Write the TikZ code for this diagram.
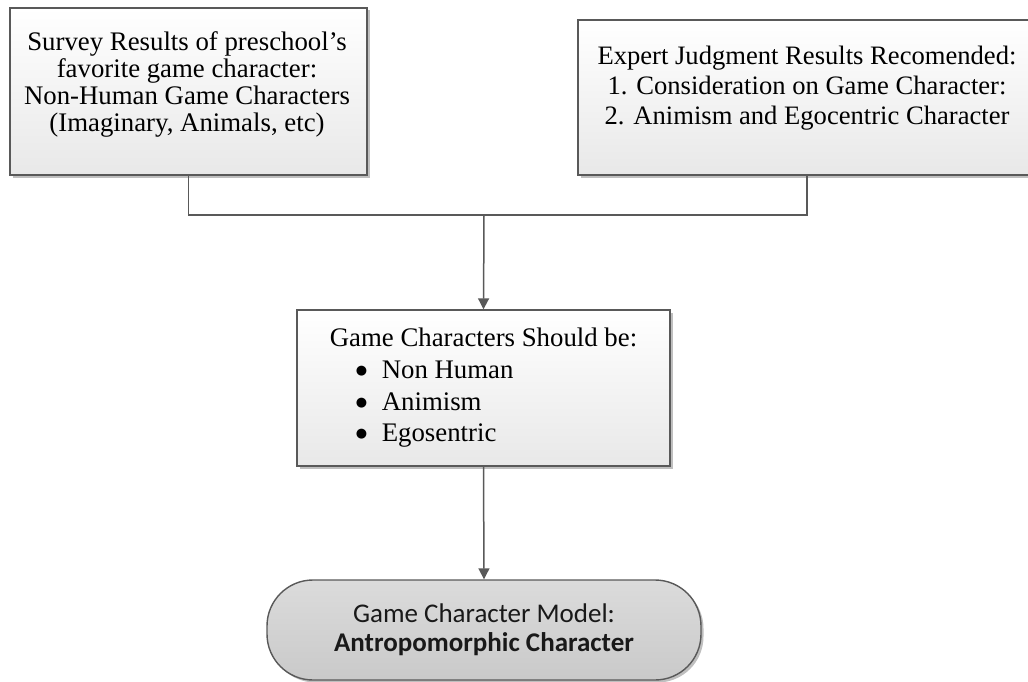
\documentclass[tikz,border=0pt]{standalone}
\usepackage{fontspec}
\setmainfont{Liberation Serif}
\newfontfamily\calib{Carlito}
\newfontfamily\dejavu{DejaVu Sans}
\usetikzlibrary{arrows.meta,shadows}
\definecolor{ln}{HTML}{595959}
\newcommand{\bigbul}{\hspace*{26pt}\makebox[26pt][l]{\raisebox{4pt}{\dejavu\fontsize{13}{13}\selectfont ●}}}
\begin{document}
\begin{tikzpicture}[x=1pt,y=-1pt,
 box/.style={draw=ln, line width=1.4pt, top color=white, bottom color=black!9, rectangle, inner sep=0pt,
   drop shadow={shadow xshift=2.5pt,shadow yshift=-2.5pt,opacity=0.25,fill=black}},
 stad/.style={draw=ln, line width=1.4pt, top color=black!14, bottom color=black!21, rectangle, rounded corners=46pt, inner sep=0pt,
   drop shadow={shadow xshift=2.5pt,shadow yshift=-2.5pt,opacity=0.25,fill=black}},
 txt/.style={align=center, font=\fontsize{26.8}{27.3}\selectfont, inner sep=0pt},
 conn/.style={draw=ln, line width=1.5pt},
 arr/.style={conn, -{Triangle[length=11pt,width=11pt]}}]
\useasboundingbox (0,0) rectangle (1028,682);

\node[box, minimum width=357pt, minimum height=167pt] (b1) at (188.5,91.5) {};
\node[txt] (t1) at (187,84.5) {Survey Results of preschool’s\\favorite game character:\\Non-Human Game Characters\\(Imaginary, Animals, etc)};

\node[box, minimum width=458pt, minimum height=155pt] (b2) at (807,97.5) {};
\node[txt, font=\fontsize{26.6}{30}\selectfont] (t2) at (807,88.5) {Expert Judgment Results Recomended:\\1. Consideration on Game Character:\\2. Animism and Egocentric Character};

\node[box, minimum width=373pt, minimum height=156pt, align=left, font=\fontsize{26.8}{31.7}\selectfont] (b3) at (483.5,388)
 {Game Characters Should be:\\
  \bigbul Non Human\\
  \bigbul Animism\\
  \bigbul Egosentric};

\node[stad, minimum width=434pt, minimum height=100pt, align=center, font=\calib\fontsize{27}{29}\selectfont, text=black!90] (m) at (484,630)
 {Game Character Model:\\\textbf{Antropomorphic Character}};

\coordinate (j) at (484,215);
\draw[conn] (b1.south) -- (b1.south |- j) -- (b2.south |- j) -- (b2.south);
\draw[arr] (j) -- (b3.north);
\draw[arr] (b3.south) -- (m.north);
\end{tikzpicture}
\end{document}
